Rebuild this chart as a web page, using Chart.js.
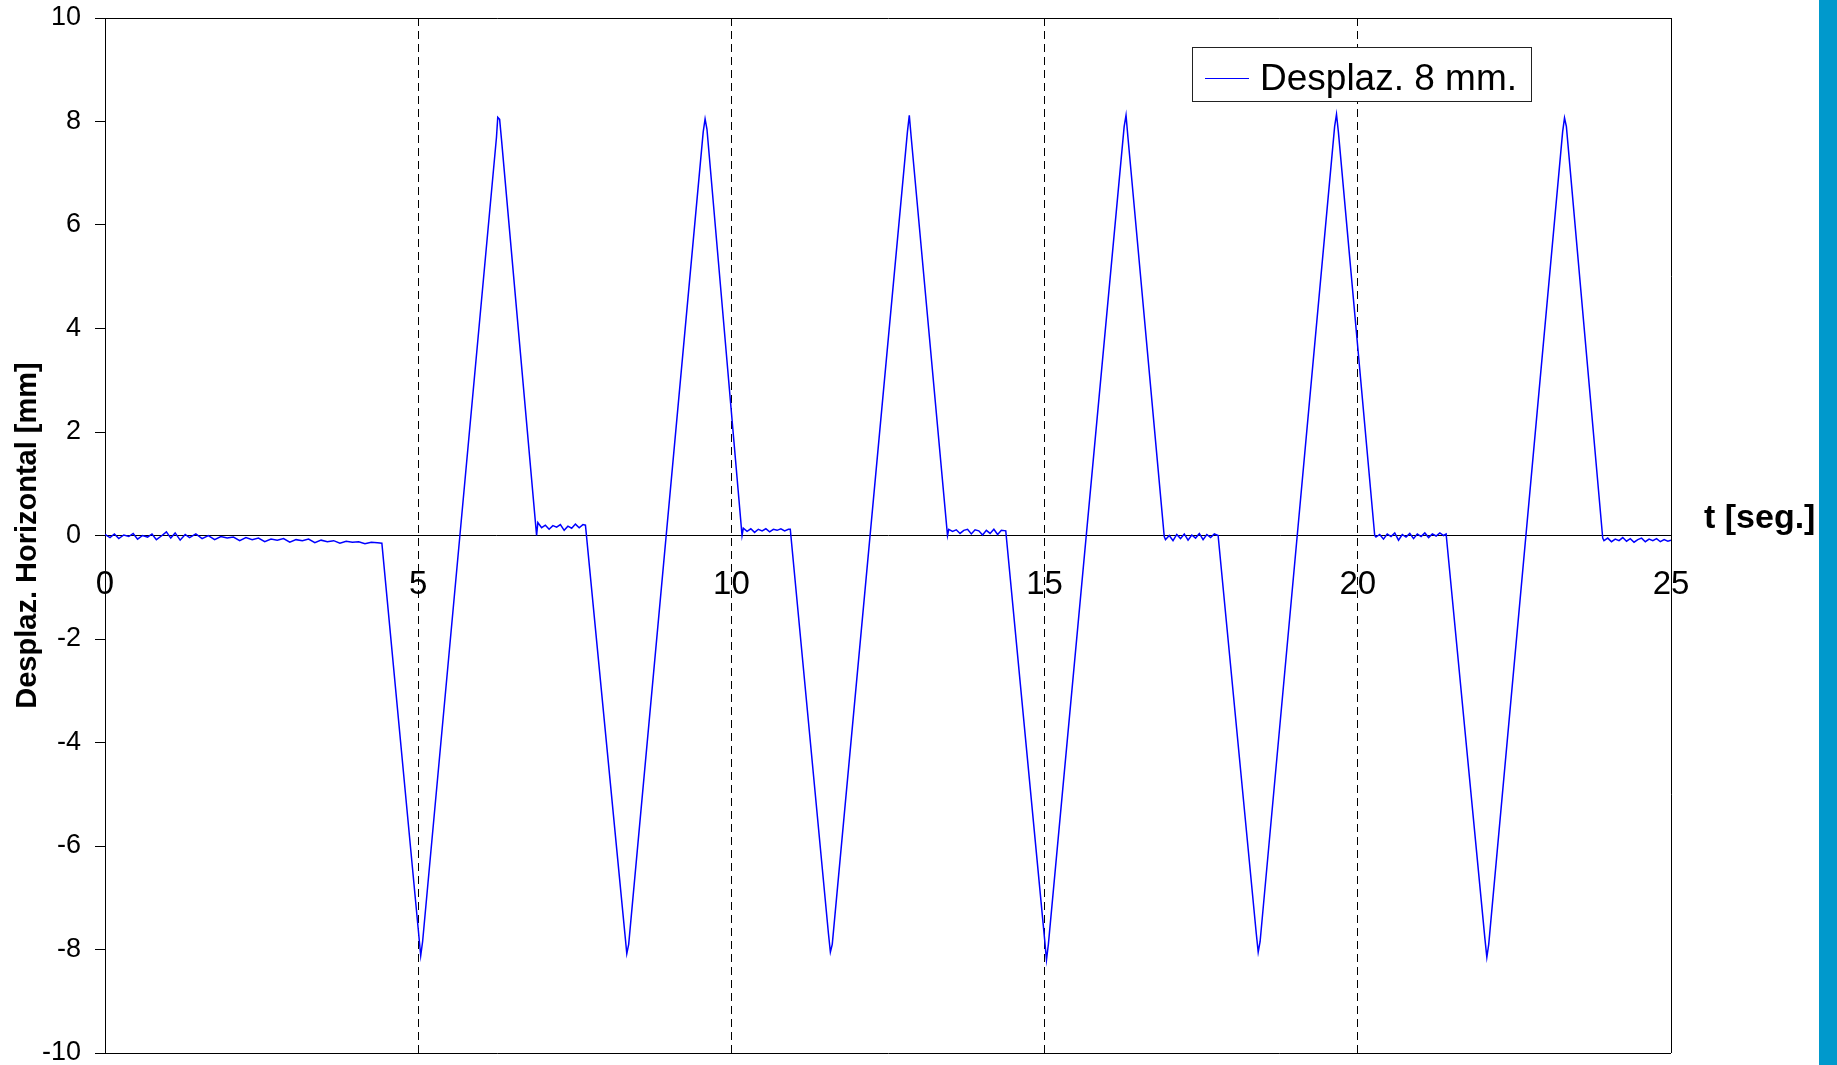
<!DOCTYPE html>
<html>
<head>
<meta charset="utf-8">
<script src="https://cdn.jsdelivr.net/npm/chart.js@4.4.1/dist/chart.umd.min.js"></script>
<style>
html,body{margin:0;padding:0;background:#fff;overflow:hidden}
#wrap{position:relative;width:1837px;height:1065px}
#bar{position:absolute;left:1819px;top:0;width:18px;height:1065px;background:#0099cc}
canvas{position:absolute;left:0;top:0}
</style>
</head>
<body>
<div id="wrap"><canvas id="c" width="1837" height="1065"></canvas><div id="bar"></div></div>
<script>
// ---- Data ----
const serieLabel = "Desplaz. 8 mm.";
const xTitle = "t [seg.]";
const yTitle = "Desplaz. Horizontal [mm]";
const xTicks = [0, 5, 10, 15, 20, 25];
const yTicks = [-10, -8, -6, -4, -2, 0, 2, 4, 6, 8, 10];

// time [s]
const tiempo = [
  0.00, 0.08, 0.15, 0.22, 0.30, 0.38, 0.45, 0.52, 0.60, 0.68,
  0.75, 0.82, 0.90, 0.98, 1.05, 1.12, 1.20, 1.28, 1.35, 1.45,
  1.55, 1.65, 1.75, 1.85, 1.95, 2.05, 2.15, 2.25, 2.35, 2.45,
  2.55, 2.65, 2.75, 2.85, 2.95, 3.05, 3.15, 3.25, 3.35, 3.45,
  3.55, 3.65, 3.75, 3.85, 3.95, 4.05, 4.15, 4.25, 4.35, 4.42,
  5.00, 5.04, 5.07, 6.25, 6.27, 6.30, 6.33, 6.89, 6.91,
  6.97, 7.03, 7.09, 7.15, 7.21, 7.27, 7.33, 7.39, 7.45, 7.51, 7.57, 7.63, 7.67,
  8.30, 8.33, 8.36, 9.55, 9.58, 9.61, 10.17, 10.19,
  10.25, 10.31, 10.37, 10.43, 10.49, 10.55, 10.61, 10.67, 10.73, 10.79, 10.85, 10.91, 10.94,
  11.55, 11.58, 11.61, 12.81, 12.84, 12.87, 13.45, 13.47,
  13.53, 13.59, 13.65, 13.71, 13.77, 13.83, 13.89, 13.95, 14.01, 14.07, 14.13, 14.19, 14.25, 14.31, 14.38,
  15.00, 15.03, 15.06, 16.27, 16.30, 16.33, 16.91,
  16.93, 16.99, 17.05, 17.11, 17.17, 17.23, 17.29, 17.35, 17.41, 17.47, 17.53, 17.59, 17.65, 17.71, 17.77,
  18.38, 18.41, 18.44, 19.63, 19.66, 19.69, 20.27,
  20.29, 20.35, 20.41, 20.47, 20.53, 20.59, 20.65, 20.71, 20.77, 20.83, 20.89, 20.95, 21.01, 21.07, 21.13, 21.19, 21.25, 21.31, 21.37, 21.41,
  22.03, 22.06, 22.09, 23.27, 23.30, 23.33, 23.91,
  23.93, 23.99, 24.05, 24.11, 24.17, 24.23, 24.29, 24.35, 24.41, 24.47, 24.53, 24.59, 24.65, 24.71, 24.77, 24.83, 24.89, 24.95, 25.00
];

// horizontal displacement [mm]
const desplaz = [
  0.02, -0.04, 0.03, -0.06, 0.01, -0.02, 0.04, -0.07, 0.00, -0.03,
  0.03, -0.08, -0.01, 0.07, -0.05, 0.05, -0.09, 0.02, -0.04, 0.03,
  -0.06, 0.00, -0.08, -0.02, -0.05, -0.03, -0.10, -0.04, -0.08, -0.05,
  -0.12, -0.07, -0.09, -0.06, -0.13, -0.08, -0.10, -0.07, -0.14, -0.09,
  -0.12, -0.10, -0.15, -0.11, -0.13, -0.12, -0.16, -0.13, -0.14, -0.15,
  -7.60, -8.12, -7.85, 7.70, 8.08, 8.04, 7.65, 0.00, 0.25,
  0.15, 0.20, 0.12, 0.19, 0.16, 0.21, 0.10, 0.18, 0.14, 0.22, 0.15, 0.21, 0.20,
  -7.70, -8.08, -7.90, 7.80, 8.05, 7.85, 0.00, 0.14,
  0.08, 0.13, 0.06, 0.12, 0.09, 0.13, 0.07, 0.12, 0.10, 0.13, 0.09, 0.12, 0.12,
  -7.70, -8.05, -7.90, 7.80, 8.12, 7.70, 0.00, 0.12,
  0.08, 0.11, 0.04, 0.10, 0.12, 0.03, 0.11, 0.09, 0.01, 0.10, 0.04, 0.12, 0.02, 0.10, 0.09,
  -7.80, -8.20, -7.90, 7.90, 8.12, 7.70, -0.02,
  -0.08, 0.00, -0.10, 0.02, -0.06, 0.03, -0.09, 0.01, -0.05, 0.04, -0.08, 0.02, -0.04, 0.03, 0.00,
  -7.70, -8.05, -7.85, 7.90, 8.14, 7.80, 0.00,
  -0.03, 0.02, -0.07, 0.03, -0.02, 0.05, -0.09, 0.02, -0.03, 0.04, -0.06, 0.03, -0.02, 0.05, -0.04, 0.03, -0.01, 0.05, 0.00, 0.03,
  -7.80, -8.15, -7.90, 7.80, 8.07, 7.90, -0.05,
  -0.10, -0.05, -0.12, -0.07, -0.10, -0.04, -0.11, -0.06, -0.13, -0.08, -0.05, -0.12, -0.07, -0.10, -0.06, -0.12, -0.08, -0.11, -0.09
];

// ---- Chart ----
const FONT = "'Liberation Sans', Arial, Helvetica, sans-serif";
const points = tiempo.map((t, i) => ({ x: t, y: desplaz[i] }));

const extras = {
  id: 'extras',
  afterDraw(chart) {
    const c = chart.ctx, a = chart.chartArea, ds = chart.data.datasets[0];
    c.save();
    // legend box
    const bx = a.right - 479, by = a.top + 29, bw = 339, bh = 54;
    c.fillStyle = '#fff';
    c.fillRect(bx, by, bw, bh);
    c.strokeStyle = '#222';
    c.lineWidth = 1;
    c.strokeRect(bx + 0.5, by + 0.5, bw, bh);
    c.strokeStyle = ds.borderColor;
    c.lineWidth = 1;
    c.beginPath();
    c.moveTo(bx + 13, by + 31.5);
    c.lineTo(bx + 57, by + 31.5);
    c.stroke();
    c.fillStyle = '#000';
    c.font = '37px ' + FONT;
    c.textAlign = 'left';
    c.textBaseline = 'alphabetic';
    c.fillText(ds.label, bx + 68, by + 43);
    // x axis title at the right end of the zero line
    const y0 = chart.scales.y.getPixelForValue(0);
    c.font = 'bold 34px ' + FONT;
    c.fillText(xTitle, a.right + 33, y0 - 8);
    c.restore();
  }
};

new Chart(document.getElementById('c'), {
  type: 'line',
  data: {
    datasets: [{
      label: serieLabel,
      data: points,
      borderColor: '#0000ff',
      borderWidth: 1.5,
      pointRadius: 0,
      tension: 0,
      fill: false
    }]
  },
  options: {
    responsive: false,
    animation: false,
    devicePixelRatio: 1,
    layout: { padding: { left: 0, right: 166, top: 18, bottom: 12 } },
    plugins: { legend: { display: false }, tooltip: { enabled: false } },
    scales: {
      x: {
        type: 'linear',
        min: xTicks[0],
        max: xTicks[xTicks.length - 1],
        position: { y: 0 },
        afterFit(s) { s.height = 0; },
        afterBuildTicks(s) { s.ticks = xTicks.map(v => ({ value: v })); },
        ticks: { autoSkip: false, maxRotation: 0, padding: 30, color: '#000', font: { family: FONT, size: 33 } },
        grid: {
          drawTicks: false,
          lineWidth: 1,
          color: (c) => (c.tick && c.tick.value === 0) ? 'rgba(0,0,0,0)' : '#000'
        },
        border: {
          display: true, color: '#000', width: 1,
          dash: (c) => (c.tick && c.tick.value > 0 && c.tick.value < 25) ? [8, 5] : []
        }
      },
      y: {
        type: 'linear',
        min: yTicks[0],
        max: yTicks[yTicks.length - 1],
        position: 'left',
        afterFit(s) { s.width = 105; s.paddingTop = 0; s.paddingBottom = 0; },
        afterBuildTicks(s) { s.ticks = yTicks.map(v => ({ value: v })); },
        ticks: { color: '#000', padding: 14, font: { family: FONT, size: 27 } },
        grid: {
          drawTicks: true, tickLength: 10, tickColor: '#000', tickWidth: 1,
          color: (c) => (c.tick && Math.abs(c.tick.value) === 10) ? '#000' : 'rgba(0,0,0,0)'
        },
        border: { display: true, color: '#000', width: 1 },
        title: {
          display: true, text: yTitle, color: '#000',
          font: { family: FONT, size: 29, weight: 'bold' },
          padding: { top: 11, bottom: 0 }
        }
      }
    }
  },
  plugins: [extras]
});
</script>
</body>
</html>
